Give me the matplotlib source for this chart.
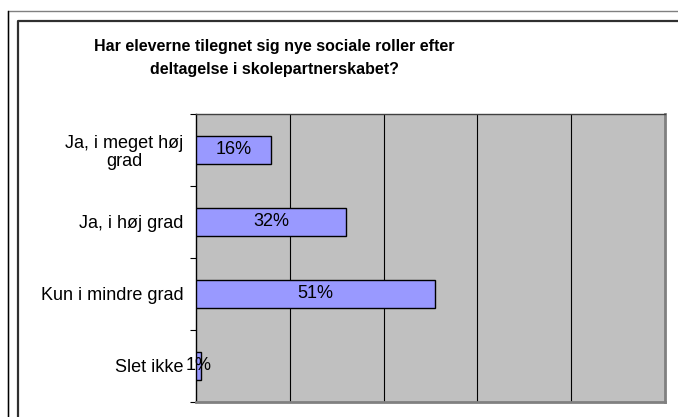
import matplotlib
matplotlib.use("Agg")
import numpy as np
from matplotlib import pyplot as plt
from matplotlib.lines import Line2D

plt.rcParams['font.family'] = ['Liberation Sans', 'DejaVu Sans']

# data
categories = ["Ja, i meget høj\ngrad", "Ja, i høj grad", "Kun i mindre grad", "Slet ikke"]
values = [0.16, 0.32, 0.51, 0.01]
labels = ["16%", "32%", "51%", "1%"]
title = "Har eleverne tilegnet sig nye sociale roller efter\ndeltagelse i skolepartnerskabet?"

W, H = 678, 417
fig = plt.figure(figsize=(W / 100, H / 100), dpi=100)
fig.patch.set_facecolor("white")

# rammer (ydre + indre), i pixel-koordinater
def px_line(xs, ys, color, lw):
    fig.add_artist(Line2D([x / W for x in xs], [1 - y / H for y in ys],
                          color=color, lw=lw, transform=fig.transFigure))

px_line([8, 8, W], [H, 11, 11], "#808080", 1.0)
px_line([8, 8], [H, 11], "black", 1.0)
px_line([18, 18, W], [H, 21, 21], "#303030", 1.6)

# plotområde
left, right, top, bottom = 196, 665, 114, 402
ax = fig.add_axes([left / W, 1 - bottom / H, (right - left) / W, (bottom - top) / H])
ax.set_facecolor("#C0C0C0")

y = np.arange(len(categories))
ax.barh(y, values, height=0.39, color="#9999FF", edgecolor="black", linewidth=1.0, zorder=3)
for yi, v, lab in zip(y, values, labels):
    ax.text(v / 2, yi - 0.01, lab, ha="center", va="center", fontsize=13, zorder=4)

ax.set_xlim(0, 1)
ax.set_ylim(len(categories) - 0.5, -0.5)
ax.set_xticks([0.2, 0.4, 0.6, 0.8])
ax.xaxis.grid(True, color="black", lw=0.8)
ax.tick_params(axis="x", length=0, labelbottom=False)

ax.set_yticks(y)
ax.set_yticklabels(categories, fontsize=13)
for t in ax.get_yticklabels():
    t.set_multialignment("center")
    t.set_linespacing(1.1)
ax.set_yticks(np.arange(-0.5, len(categories)), minor=True)
ax.tick_params(axis="y", which="major", length=0, pad=9)
ax.tick_params(axis="y", which="minor", length=4, width=0.8, direction="out", color="black")

ax.spines["left"].set_color("black")
ax.spines["left"].set_linewidth(1.0)
ax.spines["top"].set_color("#404040")
ax.spines["top"].set_linewidth(1.0)
ax.spines["right"].set_color("#808080")
ax.spines["right"].set_linewidth(2.0)
ax.spines["bottom"].set_color("#808080")
ax.spines["bottom"].set_linewidth(2.0)

fig.text(274 / W, 1 - 58 / H, title, ha="center", va="center", fontsize=11.5,
         fontweight="bold", linespacing=1.7)

fig.savefig("out.png", dpi=100)
